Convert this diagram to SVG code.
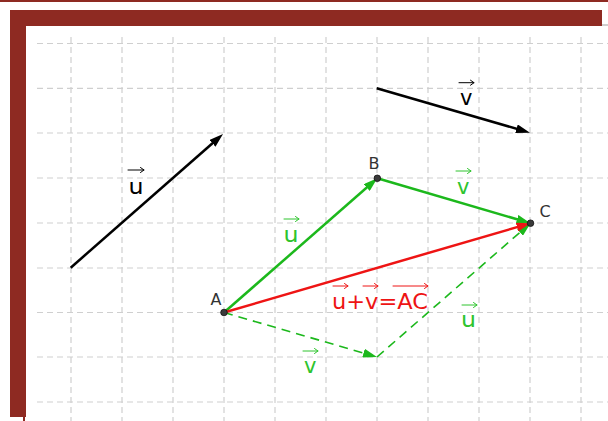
<svg xmlns="http://www.w3.org/2000/svg" width="608" height="421" viewBox="0 0 608 421">
<style>
.grid line{stroke:#cfcfcf;stroke-width:1.2;stroke-dasharray:6 4}
.frame{fill:#8e2a22}
.vec{fill:none;stroke-width:2.5}
.blk{stroke:#000}
.grn{stroke:#1cb81c}
.red{stroke:#ee1414}
.dash{fill:none;stroke:#1cb81c;stroke-width:1.6;stroke-dasharray:9 6}
.lbl{font-family:"DejaVu Sans","Liberation Sans",sans-serif;font-size:21px;text-anchor:middle}
.pt{font-family:"DejaVu Sans","Liberation Sans",sans-serif;font-size:16px;text-anchor:middle;fill:#333}
.ov{fill:none;stroke-width:1;stroke-linecap:round;stroke-linejoin:round}
.dot{fill:#3a3a3a;stroke:#111;stroke-width:0.8}
</style>
<defs>
<marker id="hb" markerUnits="userSpaceOnUse" markerWidth="14" markerHeight="9" refX="8" refY="4.5" orient="auto" viewBox="0 0 14 9"><path d="M0,0 L14,4.5 L0,9 Z" fill="#000"/></marker>
<marker id="hg" markerUnits="userSpaceOnUse" markerWidth="14" markerHeight="9" refX="8" refY="4.5" orient="auto" viewBox="0 0 14 9"><path d="M0,0 L14,4.5 L0,9 Z" fill="#1cb81c"/></marker>
<marker id="hr" markerUnits="userSpaceOnUse" markerWidth="14" markerHeight="9" refX="8" refY="4.5" orient="auto" viewBox="0 0 14 9"><path d="M0,0 L14,4.5 L0,9 Z" fill="#ee1414"/></marker>
</defs>
<rect width="608" height="421" fill="#fff"/>
<g id="frame">
<rect class="frame" x="0" y="0" width="608" height="2"/>
<rect class="frame" x="10" y="10" width="592" height="16"/>
<rect class="frame" x="10" y="10" width="16" height="407"/>
<rect class="frame" x="23" y="417" width="2" height="4"/>
<line x1="602" y1="25" x2="608" y2="25" stroke="#a0a0a0" stroke-width="1"/>
</g>
<g id="grid" class="grid">
<line x1="37" y1="43.5" x2="608" y2="43.5"/>
<line x1="37" y1="88.3" x2="608" y2="88.3"/>
<line x1="37" y1="133" x2="608" y2="133"/>
<line x1="37" y1="178" x2="608" y2="178"/>
<line x1="37" y1="223" x2="608" y2="223"/>
<line x1="37" y1="268" x2="608" y2="268"/>
<line x1="37" y1="312.5" x2="608" y2="312.5"/>
<line x1="37" y1="357" x2="608" y2="357"/>
<line x1="37" y1="402" x2="608" y2="402"/>
<line x1="71" y1="37" x2="71" y2="421"/>
<line x1="122" y1="37" x2="122" y2="421"/>
<line x1="173" y1="37" x2="173" y2="421"/>
<line x1="224" y1="37" x2="224" y2="421"/>
<line x1="275" y1="37" x2="275" y2="421"/>
<line x1="326" y1="37" x2="326" y2="421"/>
<line x1="377" y1="37" x2="377" y2="421"/>
<line x1="428" y1="37" x2="428" y2="421"/>
<line x1="479" y1="37" x2="479" y2="421"/>
<line x1="530" y1="37" x2="530" y2="421"/>
<line x1="581" y1="37" x2="581" y2="421"/>
</g>
<g id="connectors">
<path id="vec-u" class="vec blk" d="M70.7,267.7 L218.5,138" marker-end="url(#hb)"/>
<path id="vec-v" class="vec blk" d="M376.7,88.3 L524.2,131" marker-end="url(#hb)"/>
<path id="vec-AB" class="vec grn" d="M224,312.5 L372.8,182.3" marker-end="url(#hg)"/>
<path id="vec-BC" class="vec grn" d="M377.3,178.3 L524.7,221.5" marker-end="url(#hg)"/>
<path id="vec-AD" class="dash" d="M224,312.5 L371.2,355.3" marker-end="url(#hg)"/>
<path id="vec-DC" class="dash" d="M377,357 L526,227.1" marker-end="url(#hg)"/>
<path id="vec-AC" class="vec red" d="M224,312.5 L524.7,224.9" marker-end="url(#hr)"/>
</g>
<g id="labels">
<g id="lbl-u-black">
<path class="ov" stroke="#000" d="M128,170 H144 M140.5,167.5 L144,170 L140.5,172.5"/>
<text class="lbl" x="136" y="194" fill="#000" textLength="15" lengthAdjust="spacingAndGlyphs">u</text>
</g>
<g id="lbl-v-black">
<path class="ov" stroke="#000" d="M459,82.7 H474 M470.5,80.2 L474,82.7 L470.5,85.2"/>
<text class="lbl" x="466.3" y="105" fill="#000">v</text>
</g>
<g id="lbl-u-AB">
<path class="ov" stroke="#2ec42e" d="M284,219 H299 M295.5,216.5 L299,219 L295.5,221.5"/>
<text class="lbl" x="291" y="241.5" fill="#2ec42e" textLength="15" lengthAdjust="spacingAndGlyphs">u</text>
</g>
<g id="lbl-v-BC">
<path class="ov" stroke="#2ec42e" d="M456,171 H471 M467.5,168.5 L471,171 L467.5,173.5"/>
<text class="lbl" x="463.3" y="194" fill="#2ec42e">v</text>
</g>
<g id="lbl-u-DC">
<path class="ov" stroke="#2ec42e" d="M462,305 H477 M473.5,302.5 L477,305 L473.5,307.5"/>
<text class="lbl" x="468.5" y="327" fill="#2ec42e" textLength="15" lengthAdjust="spacingAndGlyphs">u</text>
</g>
<g id="lbl-v-AD">
<path class="ov" stroke="#2ec42e" d="M303,351 H318 M314.5,348.5 L318,351 L314.5,353.5"/>
<text class="lbl" x="310.3" y="373" fill="#2ec42e">v</text>
</g>
<g id="lbl-sum">
<path class="ov" stroke="#ee1414" d="M333,286 H348 M344.5,283.5 L348,286 L344.5,288.5 M363,286 H378 M374.5,283.5 L378,286 L374.5,288.5 M393,286 H428 M424.5,283.5 L428,286 L424.5,288.5"/>
<text class="lbl" x="380" y="309.3" fill="#ee1414" font-size="20" textLength="96" lengthAdjust="spacingAndGlyphs">u+v=AC</text>
</g>
</g>
<g id="node-A">
<circle class="dot" cx="224" cy="312.5" r="3.3"/>
<text class="pt" x="216" y="305" fill="#111">A</text>
</g>
<g id="node-B">
<circle class="dot" cx="377.3" cy="178.3" r="3.3"/>
<text class="pt" x="374" y="169">B</text>
</g>
<g id="node-C">
<circle class="dot" cx="530.5" cy="223.2" r="3.3"/>
<text class="pt" x="545" y="216.7">C</text>
</g>
</svg>
